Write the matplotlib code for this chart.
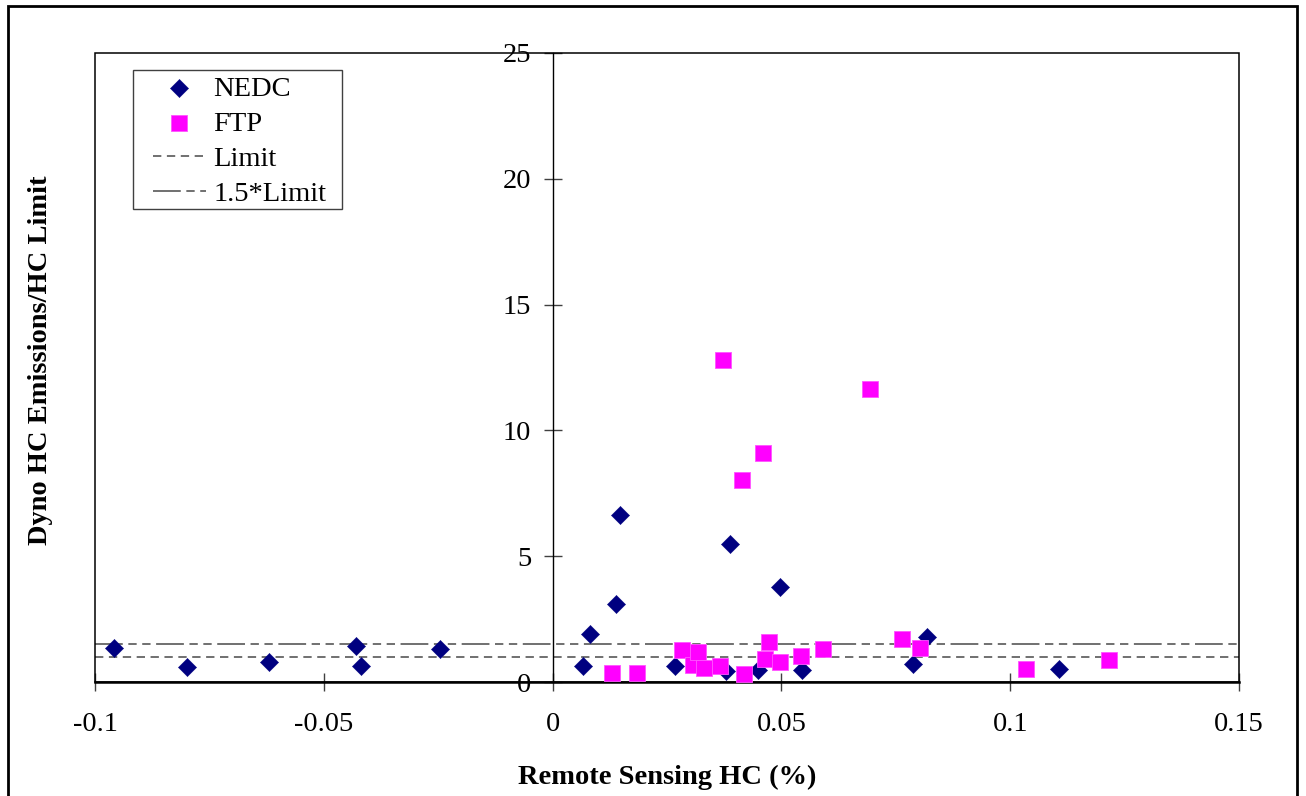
import matplotlib
matplotlib.use("Agg")
import matplotlib.pyplot as plt
from matplotlib.patches import Rectangle

# ---- data ----
nedc_x = [-0.0958, -0.0799, -0.0620, -0.0430, -0.0419, -0.0245,
          0.0067, 0.0082, 0.0138, 0.0148, 0.0267, 0.0378, 0.0387,
          0.0448, 0.0498, 0.0546, 0.0788, 0.0819, 0.1107]
nedc_y = [1.36, 0.61, 0.78, 1.43, 0.64, 1.31,
          0.65, 1.91, 3.10, 6.64, 0.65, 0.44, 5.47,
          0.48, 3.78, 0.46, 0.73, 1.78, 0.50]

ftp_x = [0.0130, 0.0184, 0.0282, 0.0307, 0.0318, 0.0331, 0.0366, 0.0372,
         0.0414, 0.0418, 0.0460, 0.0464, 0.0472, 0.0498, 0.0542, 0.0590,
         0.0694, 0.0763, 0.0803, 0.1035, 0.1216]
ftp_y = [0.35, 0.35, 1.28, 0.68, 1.18, 0.54, 0.65, 12.81,
         8.02, 0.31, 9.10, 0.91, 1.60, 0.78, 1.02, 1.30,
         11.66, 1.71, 1.34, 0.52, 0.87]

limit = 1.0
limit_15 = 1.5

x_ticks = [-0.1, -0.05, 0, 0.05, 0.1, 0.15]
x_tick_labels = ["-0.1", "-0.05", "0", "0.05", "0.1", "0.15"]
y_ticks = [0, 5, 10, 15, 20, 25]

plt.rcParams['font.family'] = ['Liberation Serif', 'DejaVu Serif']
plt.rcParams['lines.scale_dashes'] = False

FS = 20.5
W, H = 1306, 796
fig = plt.figure(figsize=(W / 100, H / 100), dpi=100)
ax = fig.add_axes([95 / W, 1 - 682 / H, (1239 - 95) / W, (682 - 53) / H])

ax.scatter(nedc_x, nedc_y, marker='D', s=9.3 ** 2, color='#000080',
           edgecolors='#000080', linewidths=0.3, zorder=4, label='NEDC')
ax.scatter(ftp_x, ftp_y, marker='s', s=11.3 ** 2, color='#ff00ff',
           edgecolors='#ff55ff', linewidths=0.6, zorder=5, label='FTP')

ax.axhline(limit, color='#707070', lw=1.4, dashes=(6, 4), zorder=2, label='Limit')
ax.axhline(limit_15, color='#707070', lw=1.4, dashes=(20, 4, 6, 4, 6, 4),
           zorder=2, label='1.5*Limit')

ax.set_xlim(-0.1, 0.15)
ax.set_ylim(0, 25)
ax.set_xticks(x_ticks)
ax.set_xticklabels(x_tick_labels)
ax.set_yticks(y_ticks)

for s in ['top', 'right']:
    ax.spines[s].set_visible(False)
ax.spines['left'].set_position(('data', 0))
ax.spines['left'].set_linewidth(1.0)
ax.spines['left'].set_color('black')
ax.spines['bottom'].set_linewidth(1.8)
ax.spines['bottom'].set_color('black')
ax.add_patch(Rectangle((0, 0), 1, 1, transform=ax.transAxes, fill=False,
                       edgecolor='black', lw=1.1, zorder=3, clip_on=False))

ax.tick_params(axis='both', direction='inout', length=13, width=1.0,
               color='#404040', labelsize=FS, labelcolor='black')
ax.tick_params(axis='y', pad=9)
ax.tick_params(axis='x', pad=15)

ax.set_xlabel('Remote Sensing HC (%)', fontsize=FS, fontweight='bold', labelpad=20)
fig.text(41 / W, 1 - 360 / H, 'Dyno HC Emissions/HC Limit', rotation=90,
         ha='center', va='center', fontsize=FS, fontweight='bold')

leg = ax.legend(loc='upper left', bbox_to_anchor=(0.0332 + 17 / 1144, 0.973 - 3 / 629),
                borderaxespad=0, fontsize=FS, frameon=False,
                handlelength=1.85, handletextpad=0.28,
                labelspacing=0.32, borderpad=0.1, markerscale=1.0)
leg.set_zorder(7)

fig.canvas.draw()
bb = leg.get_window_extent(fig.canvas.get_renderer())
inv = ax.transAxes.inverted()
(x0, y0), (x1, y1) = inv.transform([(bb.x0 - 17, bb.y0 + 1), (bb.x1 + 13, bb.y1 + 3)])
ax.add_patch(Rectangle((x0, y0), x1 - x0, y1 - y0, transform=ax.transAxes,
                       facecolor='white', edgecolor='#404040', lw=1.0,
                       zorder=6, clip_on=False))

fig.patches.append(Rectangle((8 / W, -0.02), (1297 - 8) / W, 1.02 - 5.5 / H,
                             transform=fig.transFigure, fill=False,
                             edgecolor='black', lw=2.0))

fig.savefig('out.png', dpi=100)
